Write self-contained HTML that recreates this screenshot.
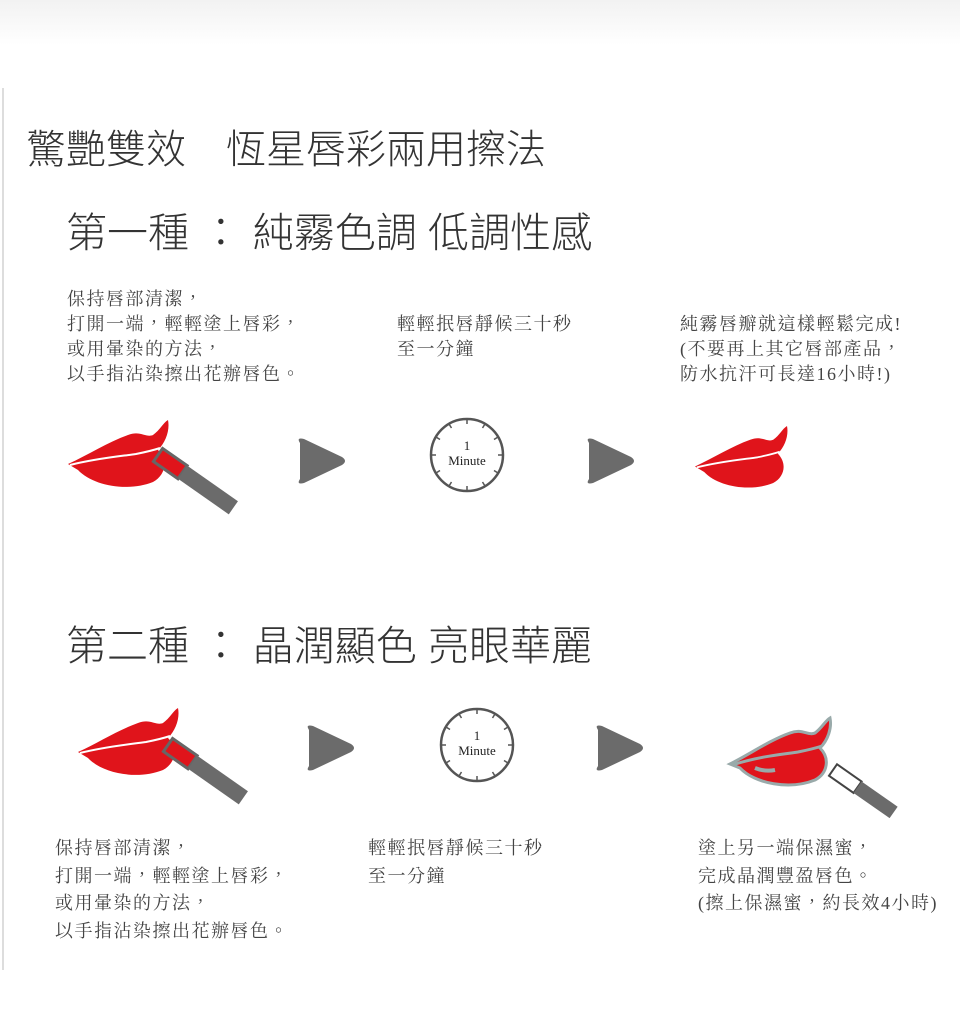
<!DOCTYPE html>
<html><head><meta charset="utf-8"><style>
body{margin:0;width:960px;height:1020px;background:#fff;position:relative;overflow:hidden;font-family:"Liberation Serif","Noto Serif CJK TC","Noto Serif CJK SC",serif;color:#333}
.t{position:absolute;white-space:nowrap}
.h{font-family:"Liberation Sans","Noto Sans CJK TC",sans-serif;font-size:40px;color:#333;font-weight:300}
.b{font-size:18px;line-height:25px;letter-spacing:1.5px;color:#444}
.b2{font-size:18px;line-height:27.5px;letter-spacing:1.5px;color:#444}
</style></head><body>
<div style="position:absolute;left:0;top:0;width:960px;height:45px;background:linear-gradient(#f2f2f2,#fff)"></div>
<div style="position:absolute;left:2px;top:88px;width:2px;height:882px;background:#ddd"></div>
<div class="t h" style="left:26px;top:117px">驚艷雙效　恆星唇彩兩用擦法</div>
<div class="t h" style="left:66px;top:199px;font-size:41px">第一種 ： 純霧色調 低調性感</div>
<div class="t h" style="left:66px;top:612px;font-size:41px">第二種 ： 晶潤顯色 亮眼華麗</div>
<div class="t b" style="left:67px;top:287px">保持唇部清潔，<br>打開一端，輕輕塗上唇彩，<br>或用暈染的方法，<br>以手指沾染擦出花辦唇色。</div>
<div class="t b" style="left:397px;top:312px">輕輕抿唇靜候三十秒<br>至一分鐘</div>
<div class="t b" style="left:680px;top:312px">純霧唇瓣就這樣輕鬆完成!<br>(不要再上其它唇部產品，<br>防水抗汗可長達16小時!)</div>
<div class="t b2" style="left:55px;top:835px">保持唇部清潔，<br>打開一端，輕輕塗上唇彩，<br>或用暈染的方法，<br>以手指沾染擦出花辦唇色。</div>
<div class="t b2" style="left:368px;top:835px">輕輕抿唇靜候三十秒<br>至一分鐘</div>
<div class="t b2" style="left:698px;top:835px">塗上另一端保濕蜜，<br>完成晶潤豐盈唇色。<br>(擦上保濕蜜，約長效4小時)</div>
<svg width="960" height="1020" style="position:absolute;left:0;top:0">
<defs>
<g id="lips">
<path d="M0,44 C20,35 40,22 60,15 C72,10 78,18 85,15 C92,10 95,3 100,0 C102,10 98,22 90,30 C100,40 98,55 85,62 C60,72 25,66 10,50 Z" fill="#e0141b"/>
<path d="M2,45 C30,38 55,36 68,34 C78,32 86,30 92,28" stroke="#fff" stroke-width="2" fill="none"/>
</g>
<g id="stick">
<g transform="rotate(35)">
<rect x="0" y="-8" width="30" height="16" fill="#e0141b" stroke="#666" stroke-width="3"/>
<rect x="30" y="-8" width="62" height="16" fill="#6b6b6b"/>
</g>
</g>
<g id="arr"><path d="M4,6 Q0,0 8,2 L46,20 Q52,24 46,28 L8,46 Q0,48 4,42 Z" fill="#6b6b6b"/></g>
<g id="clk">
<circle r="36" fill="#fff" stroke="#555" stroke-width="2.5"/>
<g stroke="#555" stroke-width="1.5">
<line x1="0" y1="-36" x2="0" y2="-31"/><line x1="0" y1="36" x2="0" y2="31"/><line x1="-36" y1="0" x2="-31" y2="0"/><line x1="36" y1="0" x2="31" y2="0"/>
<line x1="18" y1="-31" x2="15.5" y2="-27"/><line x1="31" y1="-18" x2="27" y2="-15.5"/><line x1="31" y1="18" x2="27" y2="15.5"/><line x1="18" y1="31" x2="15.5" y2="27"/>
<line x1="-18" y1="-31" x2="-15.5" y2="-27"/><line x1="-31" y1="-18" x2="-27" y2="-15.5"/><line x1="-31" y1="18" x2="-27" y2="15.5"/><line x1="-18" y1="31" x2="-15.5" y2="27"/>
</g>
<text x="0" y="-5" text-anchor="middle" font-family="Liberation Serif" font-size="13" fill="#222">1</text>
<text x="0" y="10" text-anchor="middle" font-family="Liberation Serif" font-size="13" fill="#222">Minute</text>
</g>
</defs>
<use href="#lips" x="68" y="420"/>
<g transform="translate(158,455)"><use href="#stick"/></g>
<use href="#arr" x="296" y="437"/>
<use href="#clk" x="467" y="455"/>
<use href="#arr" x="585" y="437"/>
<g transform="translate(695,426) scale(0.92)"><use href="#lips"/></g>
<use href="#lips" x="78" y="708"/>
<g transform="translate(168,745)"><use href="#stick"/></g>
<use href="#arr" x="305" y="724"/>
<use href="#clk" x="477" y="745"/>
<use href="#arr" x="594" y="724"/>
<g transform="translate(730,718)">
<path d="M0,46 C20,36 40,22 60,15 C72,10 78,18 85,15 C92,10 95,3 100,0 C102,10 98,22 90,30 C100,40 98,55 85,62 C60,72 25,66 10,50 Z" fill="#e0141b" stroke="#9aa" stroke-width="3"/>
<path d="M2,47 C30,38 55,36 68,34 C78,32 86,30 92,28" stroke="#9aa" stroke-width="3" fill="none"/>
<path d="M25,50 Q35,54 45,52" stroke="#9aa" stroke-width="4" fill="none"/>
</g>
<g transform="translate(833,770) rotate(35)">
<rect x="0" y="-7" width="30" height="14" fill="#fff" stroke="#444" stroke-width="2"/>
<rect x="30" y="-7" width="44" height="14" fill="#6b6b6b"/>
</g>
</svg>
</body></html>
